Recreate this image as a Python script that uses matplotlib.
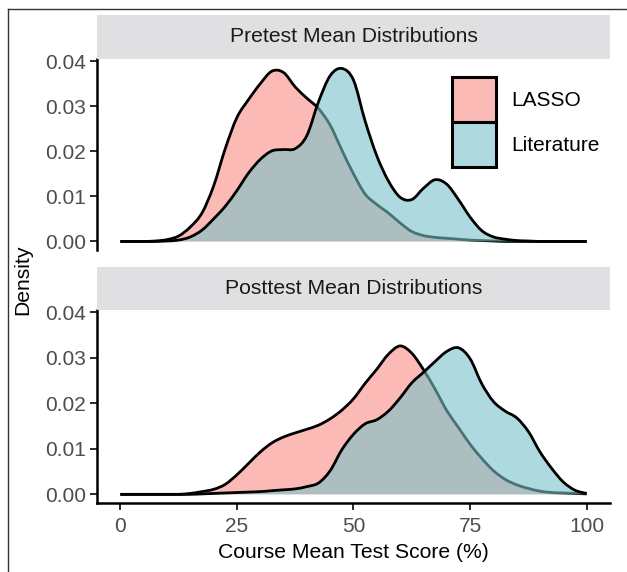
import matplotlib
matplotlib.use('Agg')
import matplotlib.pyplot as plt
from matplotlib.patches import Patch, PathPatch
from matplotlib.path import Path
from matplotlib.lines import Line2D
from matplotlib.colors import to_rgba
import numpy as np

plt.rcParams['font.family'] = ['Liberation Sans', 'DejaVu Sans']

# score grid (%) the densities were read at
score = np.arange(0, 100.1, 2.5)

pre_lasso = [0, 0, 0, 0.0001, 0.0004, 0.0012, 0.0032, 0.0063, 0.0123, 0.0206,
             0.0275, 0.0315, 0.0350, 0.0378, 0.0375, 0.0343, 0.0318, 0.0295, 0.0258, 0.0203,
             0.0150, 0.0105, 0.0082, 0.0063, 0.0041, 0.0022, 0.0013, 0.0009, 0.0007, 0.0005,
             0.0003, 0.0002, 0.0001, 0, 0, 0, 0, 0, 0, 0, 0]
pre_lit = [0, 0, 0, 0, 0.0001, 0.0003, 0.0010, 0.0025, 0.0050, 0.0078,
           0.0113, 0.0152, 0.0182, 0.0201, 0.0204, 0.0206, 0.0235, 0.0310, 0.0368, 0.0384,
           0.0358, 0.0267, 0.0190, 0.0134, 0.0098, 0.0093, 0.0118, 0.0137, 0.0127, 0.0093,
           0.0054, 0.0024, 0.0010, 0.0005, 0.0002, 0.0001, 0, 0, 0, 0, 0]
post_lasso = [0, 0, 0, 0, 0, 0, 0.0002, 0.0006, 0.0011, 0.0022,
              0.0043, 0.0068, 0.0093, 0.0113, 0.0126, 0.0135, 0.0143, 0.0152, 0.0166, 0.0185,
              0.0210, 0.0244, 0.0275, 0.0308, 0.0326, 0.0310, 0.0274, 0.0231, 0.0184, 0.0147,
              0.0110, 0.0079, 0.0052, 0.0033, 0.0021, 0.0013, 0.0007, 0.0004, 0.0003, 0.0002, 0.0001]
post_lit = [0, 0, 0, 0, 0, 0, 0, 0.0001, 0.0002, 0.0003,
            0.0004, 0.0005, 0.0006, 0.0008, 0.0010, 0.0012, 0.0017, 0.0025, 0.0052, 0.0098,
            0.0132, 0.0155, 0.0164, 0.0183, 0.0212, 0.0245, 0.0268, 0.0292, 0.0314, 0.0322,
            0.0298, 0.0243, 0.0204, 0.0183, 0.0168, 0.0138, 0.0093, 0.0057, 0.0027, 0.0009, 0.0002]

groups = ['LASSO', 'Literature']
panels = ['Pretest Mean Distributions', 'Posttest Mean Distributions']
x_ticks = [0, 25, 50, 75, 100]
y_ticks = [0.00, 0.01, 0.02, 0.03, 0.04]

fills = {'LASSO': to_rgba('#F8766D', 0.5), 'Literature': to_rgba('#78C1C8', 0.6)}

W, H = 627, 572
fig = plt.figure(figsize=(W / 100, H / 100), dpi=100)


def fx(px):
    return px / W


def fy(py):
    return 1 - py / H


def curve_verts(x, y):
    # smooth bezier through the read points (catmull-rom control points)
    p = np.column_stack([x, y])
    ext = np.vstack([p[0], p, p[-1]])
    verts = [p[0]]
    codes = [Path.MOVETO]
    for k in range(len(p) - 1):
        p0, p1, p2, p3 = ext[k], ext[k + 1], ext[k + 2], ext[k + 3]
        c1 = p1 + (p2 - p0) / 6.0
        c2 = p2 - (p3 - p1) / 6.0
        c1[1] = max(c1[1], 0)
        c2[1] = max(c2[1], 0)
        verts += [c1, c2, p2]
        codes += [Path.CURVE4] * 3
    return verts, codes


# panel boxes in pixels: left, top, right, bottom
boxes = [(97, 59, 610, 250), (97, 310, 610, 503)]
strips = [(97, 15, 610, 59), (97, 267, 610, 310)]
data = [(pre_lasso, pre_lit), (post_lasso, post_lit)]

for i in range(2):
    l, t, r, b = boxes[i]
    ax = fig.add_axes([fx(l), fy(b), fx(r) - fx(l), fy(t) - fy(b)])
    for g, y in zip(groups, data[i]):
        verts, codes = curve_verts(score, np.asarray(y, float))
        fverts = verts + [(score[-1], 0), (score[0], 0), (score[0], 0)]
        fcodes = codes + [Path.LINETO, Path.LINETO, Path.CLOSEPOLY]
        ax.add_patch(PathPatch(Path(fverts, fcodes), facecolor=fills[g], lw=0))
        ax.add_patch(PathPatch(Path(verts, codes), fill=False, edgecolor='black',
                               lw=2.0, capstyle='butt'))
    ax.set_xlim(-5, 105)
    ax.set_ylim(-0.0019, 0.0405)
    ax.set_yticks(y_ticks)
    ax.set_yticklabels(['%.2f' % v for v in y_ticks])
    for s in ['top', 'right']:
        ax.spines[s].set_visible(False)
    ax.spines['left'].set_linewidth(1.8)
    ax.spines['bottom'].set_linewidth(1.8)
    ax.tick_params(axis='both', labelsize=15, colors='#1a1a1a', labelcolor='#4d4d4d',
                   length=5, width=1.3, pad=3)
    ax.tick_params(axis='x', pad=5)
    if i == 0:
        ax.spines['bottom'].set_visible(False)
        ax.set_xticks([])
    else:
        ax.set_xticks(x_ticks)
        ax.set_xlabel('Course Mean Test Score (%)', fontsize=15.2, labelpad=5)

    sl, st, sr, sb = strips[i]
    sax = fig.add_axes([fx(sl), fy(sb), fx(sr) - fx(sl), fy(st) - fy(sb)])
    sax.set_facecolor('#e0e0e2')
    sax.set_xticks([])
    sax.set_yticks([])
    for s in sax.spines.values():
        s.set_visible(False)
    sax.text(0.5, 0.5, panels[i], ha='center', va='center', fontsize=15.2,
             color='#1a1a1a', transform=sax.transAxes)

fig.text(fx(23), fy(280), 'Density', rotation=90, ha='center', va='center', fontsize=15.2)

handles = [Patch(facecolor=fills[g], edgecolor='black', lw=2.2) for g in groups]
fig.legend(handles, groups, loc='upper left', bbox_to_anchor=(fx(452), fy(77)),
           frameon=False, fontsize=15, handlelength=2.1, handleheight=2.95,
           labelspacing=0.0, handletextpad=0.75, borderpad=0, borderaxespad=0)

# outer frame (left and top edges only are visible in the reference)
fig.add_artist(Line2D([fx(8), fx(8)], [fy(9), 0], color='#333333', lw=1.0))
fig.add_artist(Line2D([fx(8), 1], [fy(9), fy(9)], color='#333333', lw=1.0))

fig.savefig('out.png', dpi=100)
